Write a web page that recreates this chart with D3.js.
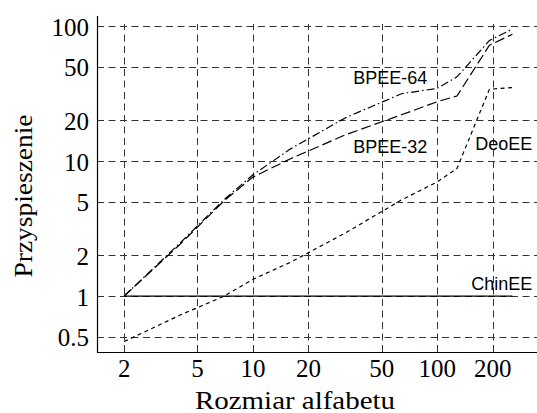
<!DOCTYPE html>
<html>
<head>
<meta charset="utf-8">
<script src="https://cdn.jsdelivr.net/npm/d3@7"></script>
<style>
  html, body { margin: 0; padding: 0; background: #fff; }
  svg { display: block; }
</style>
</head>
<body>
<div id="chart"></div>
<script>
// alphabet sizes (x) and speed-up for each encoder (y)
const sizes   = [2, 4, 7, 10, 16, 32, 64, 100, 128, 192, 256];
const chinEE  = [1, 1, 1, 1, 1, 1, 1, 1, 1, 1, 1];
const bpee32  = [1, 2.4, 5.1, 7.6, 10.4, 15.7, 22, 27.5, 30.3, 72, 87];
const bpee64  = [1, 2.45, 5.2, 7.9, 12.3, 21, 31.5, 34.5, 42, 78, 95];
const deoEE   = [0.46, 0.72, 1.0, 1.33, 1.78, 2.95, 5.15, 7.0, 8.8, 34, 35];

const xTicks = [2, 5, 10, 20, 50, 100, 200];
const yTicks = [0.5, 1, 2, 5, 10, 20, 50, 100];

const seriesNames = ["ChinEE", "BPEE-32", "BPEE-64", "DeoEE"];
const seriesDash  = [null, "10,4", "8,3,1.5,3", "4,3.5"];
// where each series name is written (x, y in data units)
const labelX = [153, 35, 35, 161];
const labelY = [1.107, 11.5, 37, 12.1];

const W = 537, H = 413;
const m = { left: 97, right: 0, top: 16, bottom: 61 };

const svg = d3.select("#chart").append("svg")
  .attr("width", W).attr("height", H);

const x = d3.scaleLog().domain([1.425, 348]).range([m.left, W - m.right]);
const y = d3.scaleLog().domain([0.385, 118.6]).range([H - m.bottom, m.top]);

const serif = "Liberation Serif";
const sans  = "Liberation Sans";

// grid
const grid = svg.append("g")
  .attr("stroke", "#333")
  .attr("stroke-width", 1)
  .attr("stroke-dasharray", "7,4.5");

grid.selectAll("line.h").data(yTicks).join("line")
  .attr("class", "h")
  .attr("x1", m.left).attr("x2", W)
  .attr("y1", d => Math.round(y(d)) + 0.5).attr("y2", d => Math.round(y(d)) + 0.5);

grid.selectAll("line.v").data(xTicks).join("line")
  .attr("class", "v")
  .attr("x1", d => Math.round(x(d)) + 0.5).attr("x2", d => Math.round(x(d)) + 0.5)
  .attr("y1", H - m.bottom).attr("y2", y(100) - 2);

// axes lines
svg.append("line")
  .attr("x1", m.left + 0.5).attr("x2", m.left + 0.5)
  .attr("y1", m.top).attr("y2", H - m.bottom + 0.5)
  .attr("stroke", "#000").attr("stroke-width", 1.2);
svg.append("line")
  .attr("x1", m.left).attr("x2", W)
  .attr("y1", H - m.bottom + 0.5).attr("y2", H - m.bottom + 0.5)
  .attr("stroke", "#000").attr("stroke-width", 1.2);

// tick labels
svg.selectAll("text.yt").data(yTicks).join("text")
  .attr("class", "yt")
  .attr("x", m.left - 8)
  .attr("y", d => y(d) + 9.5)
  .attr("text-anchor", "end")
  .attr("font-family", serif)
  .attr("font-weight", "normal")
  .attr("font-size", 25)
  .text(d => d);

svg.selectAll("text.xt").data(xTicks).join("text")
  .attr("class", "xt")
  .attr("x", d => x(d))
  .attr("y", H - m.bottom + 25)
  .attr("text-anchor", "middle")
  .attr("font-family", serif)
  .attr("font-weight", "normal")
  .attr("font-size", 25)
  .text(d => d);

// axis titles
svg.append("text")
  .attr("x", 295).attr("y", 409)
  .attr("text-anchor", "middle")
  .attr("textLength", 200).attr("lengthAdjust", "spacingAndGlyphs")
  .attr("font-family", serif)
  .attr("font-size", 25)
  .text("Rozmiar alfabetu");

svg.append("text")
  .attr("transform", "translate(32,196) rotate(-90)")
  .attr("text-anchor", "middle")
  .attr("textLength", 163).attr("lengthAdjust", "spacingAndGlyphs")
  .attr("font-family", serif)
  .attr("font-size", 25)
  .text("Przyspieszenie");

// series
const allSeries = [chinEE, bpee32, bpee64, deoEE];
const line = d3.line().x(d => x(d[0])).y(d => y(d[1]));

allSeries.forEach((vals, i) => {
  svg.append("path")
    .datum(sizes.map((s, j) => [s, vals[j]]))
    .attr("fill", "none")
    .attr("stroke", "#000")
    .attr("stroke-width", 1.2)
    .attr("stroke-dasharray", seriesDash[i])
    .attr("d", line);
});

svg.selectAll("text.lab").data(seriesNames).join("text")
  .attr("class", "lab")
  .attr("x", (d, i) => x(labelX[i]))
  .attr("y", (d, i) => y(labelY[i]))
  .attr("font-family", sans)
  .attr("font-size", 18)
  .text(d => d);
</script>
</body>
</html>
